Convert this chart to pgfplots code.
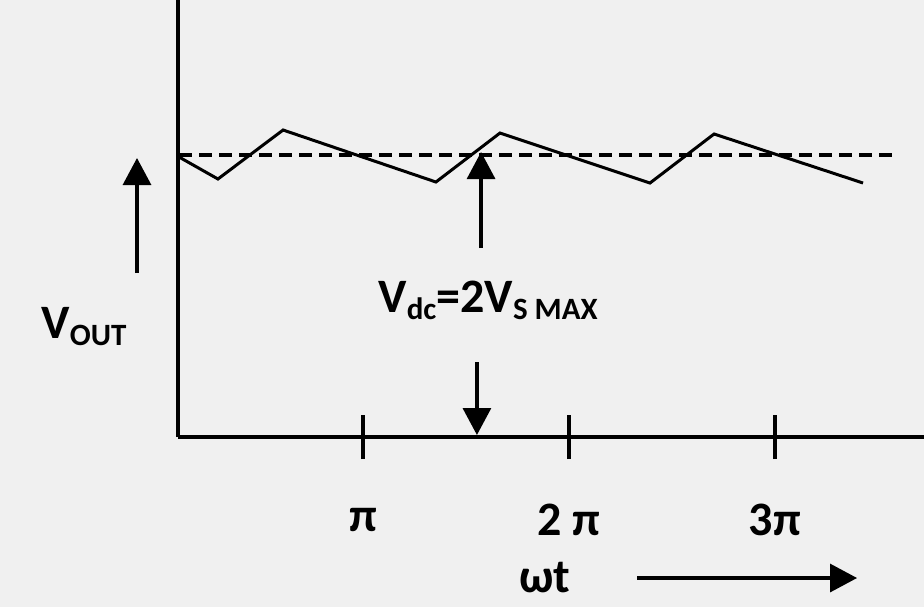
\documentclass[border=0pt]{standalone}
\usepackage{fontspec}
\setmainfont{Carlito}
\usepackage{pgfplots}
\pgfplotsset{compat=1.18}
\usetikzlibrary{arrows.meta}
\definecolor{bg}{HTML}{F0F0F0}
\newcommand\sub[1]{\raisebox{-0.3ex}{\fontsize{15.5}{16}\selectfont #1}}
\tikzset{bigarrow/.style={line width=1.6pt, -{Triangle[length=13.5pt,width=14pt]}}}

\begin{document}
\begin{tikzpicture}
% background, also the page size (1px of the reference = 0.5pt)
\fill[bg] (-89pt,-85pt) rectangle (373pt,218.5pt);
\path[use as bounding box] (-89pt,-85pt) rectangle (373pt,218.5pt);
\begin{axis}[
  scale only axis, width=373pt, height=218.5pt,
  xmin=0.102, xmax=3.723, ymin=0, ymax=437,
  axis x line=bottom, axis y line=left,
  axis line style={-, line width=2pt},
  xtick={1,2,3}, xticklabels={π,2 π,3π},
  ytick=\empty,
  xtick align=center, major tick length=22pt,
  tick style={line width=1.8pt, black},
  xticklabel style={anchor=center, yshift=-30.5pt},
  clip=false,
  font=\fontsize{24}{29}\selectfont\bfseries,
]
% output ripple
\addplot[black, line width=1.5pt] coordinates {
  (0.107,280) (0.296,258) (0.612,307) (1.354,255)
  (1.665,304) (2.393,254) (2.704,303) (3.427,254)};
% dc level
\addplot[black, line width=2.2pt, dash pattern=on 6.5pt off 3.5pt]
  coordinates {(0.107,282) (3.597,282)};

\draw[bigarrow] (axis cs:1.573,189) -- (axis cs:1.573,285);
\draw[bigarrow] (axis cs:1.553,75) -- (axis cs:1.553,2);
\node at (axis cs:1.607,137) {V\sub{dc}=2V\sub{S MAX}};
\node at (axis cs:-0.354,110) {V\sub{OUT}};
\draw[bigarrow] (axis cs:-0.097,164) -- (axis cs:-0.097,279);
\node at (axis cs:1.883,-141) {ωt};
\draw[bigarrow] (axis cs:2.33,-141) -- (axis cs:3.398,-141);
\end{axis}
\end{tikzpicture}
\end{document}
